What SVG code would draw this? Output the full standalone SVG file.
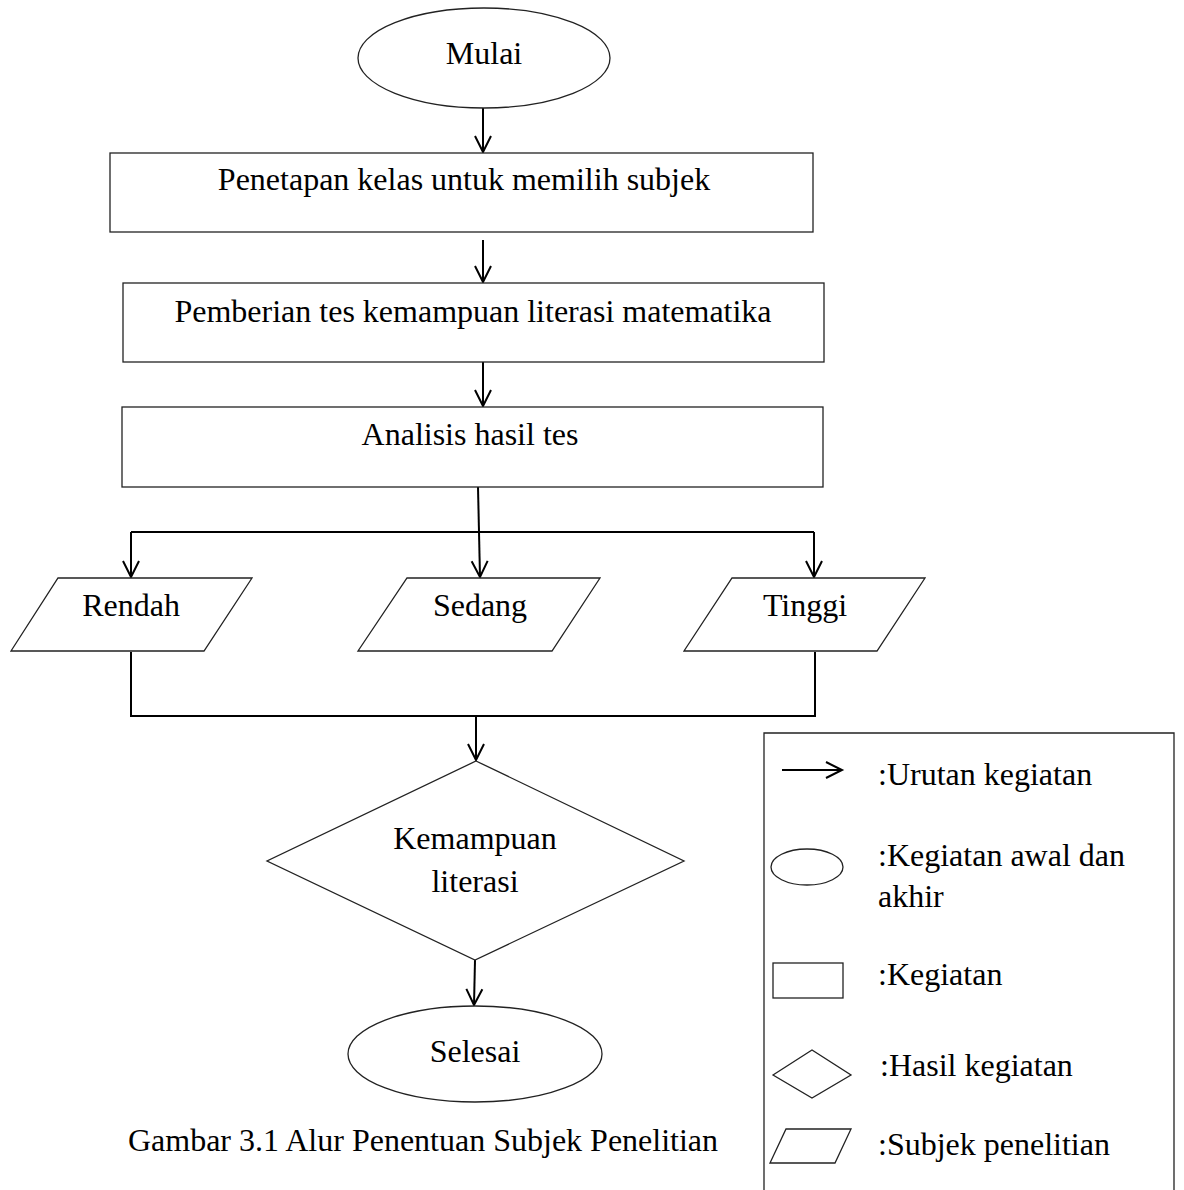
<svg xmlns="http://www.w3.org/2000/svg" width="1184" height="1190" viewBox="0 0 1184 1190">
<style>
.shape{fill:#fff;stroke:#222;stroke-width:1.3}
.conn{fill:none;stroke:#000;stroke-width:2}
.lbl{font-family:"Liberation Serif","Times New Roman",serif;font-size:32px;fill:#000}
.c{text-anchor:middle}
</style>
<defs>
<marker id="ah" markerUnits="userSpaceOnUse" markerWidth="20" markerHeight="20" refX="0" refY="0" orient="auto" overflow="visible">
<path d="M-16,-8 L0,0 L-16,8" fill="none" stroke="#000" stroke-width="2"/>
</marker>
</defs>
<rect width="1184" height="1190" fill="#fff"/>
<g id="connectors">
<path class="conn" d="M483,108 L483,152" marker-end="url(#ah)"/>
<path class="conn" d="M483,240 L483,282" marker-end="url(#ah)"/>
<path class="conn" d="M483,362 L483,406" marker-end="url(#ah)"/>
<path class="conn" d="M478,487 L480,577" marker-end="url(#ah)"/>
<path class="conn" d="M131,532 L814,532"/>
<path class="conn" d="M131,532 L131,577" marker-end="url(#ah)"/>
<path class="conn" d="M814,532 L814,577" marker-end="url(#ah)"/>
<path class="conn" d="M131,652 L131,716 L815,716 L815,652"/>
<path class="conn" d="M476,716 L476,760" marker-end="url(#ah)"/>
<path class="conn" d="M475,960 L474,1005" marker-end="url(#ah)"/>
</g>
<g id="mulai">
<ellipse class="shape" cx="484" cy="58" rx="126" ry="50"/>
<text class="lbl c" x="484" y="64">Mulai</text>
</g>
<g id="penetapan">
<rect class="shape" x="110" y="153" width="703" height="79"/>
<text class="lbl c" x="464" y="190">Penetapan kelas untuk memilih subjek</text>
</g>
<g id="pemberian">
<rect class="shape" x="123" y="283" width="701" height="79"/>
<text class="lbl c" x="473" y="322">Pemberian tes kemampuan literasi matematika</text>
</g>
<g id="analisis">
<rect class="shape" x="122" y="407" width="701" height="80"/>
<text class="lbl c" x="470" y="445">Analisis hasil tes</text>
</g>
<g id="rendah">
<polygon class="shape" points="58,578 252,578 204,651 11,651"/>
<text class="lbl c" x="131" y="616">Rendah</text>
</g>
<g id="sedang">
<polygon class="shape" points="407,578 600,578 552,651 358,651"/>
<text class="lbl c" x="480" y="616">Sedang</text>
</g>
<g id="tinggi">
<polygon class="shape" points="732,578 925,578 877,651 684,651"/>
<text class="lbl c" x="805" y="616">Tinggi</text>
</g>
<g id="kemampuan">
<polygon class="shape" points="476,761 684,861 475,960 267,861"/>
<text class="lbl c" x="475" y="849">Kemampuan</text>
<text class="lbl c" x="475" y="892">literasi</text>
</g>
<g id="selesai">
<ellipse class="shape" cx="475" cy="1054" rx="127" ry="48"/>
<text class="lbl c" x="475" y="1062">Selesai</text>
</g>
<g id="caption">
<text class="lbl c" x="423" y="1151">Gambar 3.1 Alur Penentuan Subjek Penelitian</text>
</g>
<g id="legend">
<path class="shape" fill="none" d="M764,1190 L764,733 L1174,733 L1174,1190" style="fill:none"/>
<path class="conn" d="M782,770 L842,770" marker-end="url(#ah)"/>
<text class="lbl" x="878" y="785">:Urutan kegiatan</text>
<ellipse class="shape" cx="807" cy="867" rx="36" ry="18"/>
<text class="lbl" x="878" y="866">:Kegiatan awal dan</text>
<text class="lbl" x="878" y="907">akhir</text>
<rect class="shape" x="773" y="963" width="70" height="35"/>
<text class="lbl" x="878" y="985">:Kegiatan</text>
<polygon class="shape" points="773,1075 812,1050 851,1075 812,1098"/>
<text class="lbl" x="880" y="1076">:Hasil kegiatan</text>
<polygon class="shape" points="786,1129 851,1129 835,1163 770,1163"/>
<text class="lbl" x="878" y="1155">:Subjek penelitian</text>
</g>
</svg>
